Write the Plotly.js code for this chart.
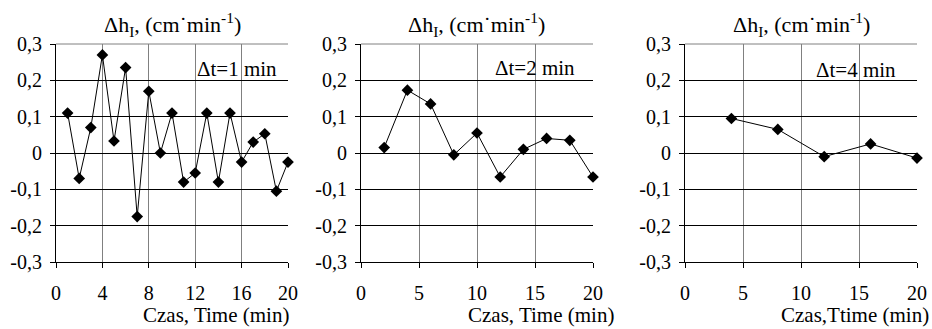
<!DOCTYPE html>
<html>
<head>
<meta charset="utf-8">
<script src="https://cdn.plot.ly/plotly-3.0.1.min.js"></script>
<style>html,body{margin:0;padding:0;background:#fff;}#chart{width:932px;height:329px;}</style>
</head>
<body>
<div id="chart"></div>
<script>
// ---- data ----
const time1 = [1,2,3,4,5,6,7,8,9,10,11,12,13,14,15,16,17,18,19,20];
const dh1 = [0.11,-0.07,0.07,0.27,0.033,0.235,-0.175,0.17,0,0.11,-0.08,-0.055,0.11,-0.08,0.11,-0.025,0.03,0.053,-0.105,-0.025];
const time2 = [2,4,6,8,10,12,14,16,18,20];
const dh2 = [0.015,0.173,0.135,-0.005,0.055,-0.066,0.01,0.04,0.035,-0.066];
const time4 = [4,8,12,16,20];
const dh4 = [0.095,0.065,-0.01,0.025,-0.014];
const yTickVals = [-0.3,-0.2,-0.1,0,0.1,0.2,0.3];
const yTickText = ['-0,3','-0,2','-0,1','0','0,1','0,2','0,3'];
const xTicks1 = [0,4,8,12,16,20];
const xTicks2 = [0,5,10,15,20];
const xTicks3 = [0,5,10,15,20];
const panelLabels = ['\u0394t=1 min','\u0394t=2 min','\u0394t=4 min'];
const yTitle = '\u0394h<sub>I</sub>, (cm\u02D9min<sup>-1</sup>)';
const xTitles = ['Czas, Time (min)','Czas, Time (min)','Czas,Ttime (min)'];

// ---- layout helpers ----
const W = 932, H = 329;
const px = v => v / W;
const py = v => 1 - v / H;
const FONT = 'Liberation Serif';
const panels = [
  {x0:56, x1:288, ticks:xTicks1, t:[time1,dh1], lab:[237,69], xt:291},
  {x0:361, x1:593, ticks:xTicks2, t:[time2,dh2], lab:[535,68], xt:616},
  {x0:685, x1:917, ticks:xTicks3, t:[time4,dh4], lab:[856,70], xt:931}
];
const plotTop = 44, plotBottom = 262;

const data = [];
const layout = {
  width: W, height: H,
  margin: {l:0, r:0, t:0, b:0},
  paper_bgcolor: '#fff', plot_bgcolor: '#fff',
  showlegend: false,
  font: {family: FONT, size: 19, color: '#000'},
  annotations: [], shapes: []
};

panels.forEach((p, i) => {
  const n = i === 0 ? '' : String(i + 1);
  data.push({
    x: p.t[0], y: p.t[1], xaxis: 'x' + n, yaxis: 'y' + n,
    type: 'scatter', mode: 'lines+markers',
    line: {color: '#000', width: 1},
    marker: {symbol: 'diamond', size: 9, color: '#000'},
    cliponaxis: false
  });
  layout['xaxis' + n] = {
    domain: [px(p.x0), px(p.x1)], anchor: 'y' + n,
    range: [0, 20], tickvals: p.ticks, ticktext: p.ticks.map(String),
    showgrid: true, gridcolor: '#808080', gridwidth: 1,
    zeroline: false, showline: true, linecolor: '#000', linewidth: 1,
    ticks: 'outside', ticklen: 5, tickcolor: '#000', ticklabelstandoff: 8,
    tickfont: {family: FONT, size: 20, color: '#000'}, fixedrange: true
  };
  layout['yaxis' + n] = {
    domain: [py(plotBottom), py(plotTop)], anchor: 'x' + n,
    range: [-0.3, 0.3], tickvals: yTickVals, ticktext: yTickText,
    showgrid: true, gridcolor: '#000', gridwidth: 1,
    zeroline: false, showline: true, linecolor: '#000', linewidth: 1,
    ticks: 'outside', ticklen: 5, tickcolor: '#000', ticklabelstandoff: 4,
    tickfont: {family: FONT, size: 20, color: '#000'}, fixedrange: true
  };
  layout.shapes.push({type:'line', xref:'paper', yref:'paper', x0:px(p.x0), x1:px(p.x1), y0:py(plotTop), y1:py(plotTop), line:{color:'#808080', width:1}, layer:'above'});
  layout.annotations.push({xref:'paper', yref:'paper', x:px((p.x0+p.x1)/2), y:py(25), text:yTitle, showarrow:false, xanchor:'center', yanchor:'middle', font:{family:FONT, size:22, color:'#000'}});
  layout.annotations.push({xref:'paper', yref:'paper', x:px(p.lab[0]), y:py(p.lab[1]), text:panelLabels[i], showarrow:false, xanchor:'center', yanchor:'middle', font:{family:FONT, size:21, color:'#000'}});
  layout.annotations.push({xref:'paper', yref:'paper', x:px(p.xt), y:py(315), text:xTitles[i], showarrow:false, xanchor:'right', yanchor:'middle', font:{family:FONT, size:21, color:'#000'}});
});

Plotly.newPlot('chart', data, layout, {displayModeBar: false, staticPlot: true});
</script>
</body>
</html>
